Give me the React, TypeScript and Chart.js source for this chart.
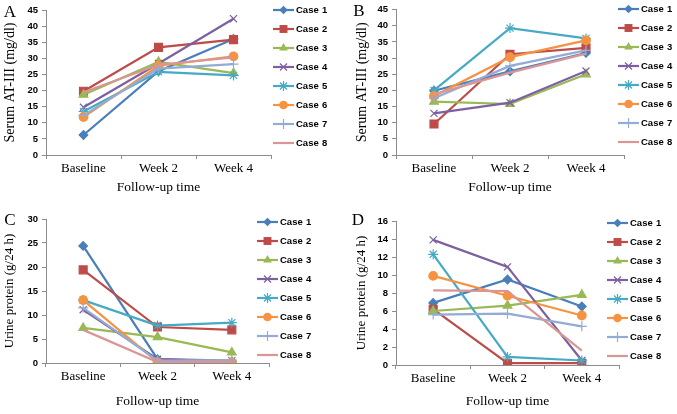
import React, { useEffect, useRef } from 'react';
import { Chart, registerables } from 'chart.js';

Chart.register(...registerables);

// ---------- data ----------
const CATEGORIES = ['Baseline', 'Week 2', 'Week 4'];
const CASE_LABELS = ['Case 1', 'Case 2', 'Case 3', 'Case 4', 'Case 5', 'Case 6', 'Case 7', 'Case 8'];

// Panel A: Serum AT-III (mg/dl)
const SERUM_A = [
  [6.2, 26.0, 36.0],
  [19.8, 33.4, 35.8],
  [18.7, 28.9, 25.4],
  [14.8, 28.4, 42.3],
  [13.5, 25.8, 24.7],
  [11.8, 27.7, 30.6],
  [12.3, 26.8, 28.2],
  [19.5, 28.0, 30.3],
];
// Panel B: Serum AT-III (mg/dl)
const SERUM_B = [
  [19.9, 25.9, 31.6],
  [9.6, 31.2, 33.2],
  [16.5, 15.8, 25.0],
  [12.9, 16.2, 26.0],
  [20.0, 39.3, 36.1],
  [18.3, 30.3, 35.5],
  [17.6, 27.6, 32.4],
  [18.8, 25.5, 31.4],
];
// Panel C: Urine protein (g/24 h)
const URINE_C = [
  [24.4, 0.8, 0.3],
  [19.4, 7.5, 6.9],
  [7.3, 5.4, 2.2],
  [11.1, 0.8, 0.5],
  [13.1, 7.8, 8.4],
  [13.1, 0.2, 0.1],
  [11.5, 0.5, 0.6],
  [6.9, 0.2, 0.3],
];
// Panel D: Urine protein (g/24 h)
const URINE_D = [
  [6.9, 9.5, 6.5],
  [6.2, 0.2, 0.2],
  [6.0, 6.6, 7.8],
  [13.9, 10.9, 0.5],
  [12.3, 0.9, 0.5],
  [9.9, 7.7, 5.5],
  [5.6, 5.7, 4.3],
  [8.3, 8.2, 1.6],
];

const SERUM_TICKS = [0, 5, 10, 15, 20, 25, 30, 35, 40, 45];
const URINE_C_TICKS = [0, 5, 10, 15, 20, 25, 30];
const URINE_D_TICKS = [0, 2, 4, 6, 8, 10, 12, 14, 16];

// ---------- styles ----------
const COLORS = ['#4A7EBB', '#BE4B48', '#98B954', '#7D60A0', '#46AAC5', '#F69240', '#93ABD5', '#D99694'];
const MARKERS: (string | false)[] = ['rectRot', 'rect', 'triangle', 'crossRot', 'star', 'circle', 'cross', false];
const RADII = [4.3, 5.6, 5, 5, 5, 4.3, 5, 0];

const SERIF = '"Liberation Serif", "Times New Roman", serif';
const SANS = '"Liberation Sans", Arial, sans-serif';

type PanelCfg = {
  letter: string;
  yTitle: string;
  yTitleSize: number;
  values: number[][];
  ticks: number[];
  x: number; y: number; w: number; h: number;
  padLeft: number; padTop: number; padRight: number;
  yWidth: number; xHeight: number; titlePadBottom: number;
  letterX: number; letterY: number;
  legendX: number; legendY: number;
};

const PANELS: PanelCfg[] = [
  { letter: 'A', yTitle: 'Serum AT-III (mg/dl)', yTitleSize: 14, values: SERUM_A, ticks: SERUM_TICKS,
    x: 0, y: 0, w: 338, h: 207, padLeft: 0, padTop: 10, padRight: 67, yWidth: 46, xHeight: 52, titlePadBottom: 11,
    letterX: 10, letterY: 13, legendX: 273, legendY: 10 },
  { letter: 'B', yTitle: 'Serum AT-III (mg/dl)', yTitleSize: 14, values: SERUM_B, ticks: SERUM_TICKS,
    x: 338, y: 0, w: 339, h: 207, padLeft: 14, padTop: 7, padRight: 53, yWidth: 44, xHeight: 52, titlePadBottom: 11,
    letterX: 21, letterY: 12, legendX: 280, legendY: 9 },
  { letter: 'C', yTitle: 'Urine protein (g/24 h)', yTitleSize: 13, values: URINE_C, ticks: URINE_C_TICKS,
    x: 0, y: 207, w: 338, h: 207, padLeft: 0, padTop: 12, padRight: 69, yWidth: 46, xHeight: 51, titlePadBottom: 4,
    letterX: 10, letterY: 14, legendX: 257, legendY: 15 },
  { letter: 'D', yTitle: 'Urine protein (g/24 h)', yTitleSize: 13, values: URINE_D, ticks: URINE_D_TICKS,
    x: 338, y: 207, w: 339, h: 207, padLeft: 14, padTop: 14, padRight: 58, yWidth: 44, xHeight: 49, titlePadBottom: 4,
    letterX: 20, letterY: 14, legendX: 269, legendY: 16 },
];

function drawMarker(ctx: CanvasRenderingContext2D, style: string | false, x: number, y: number, r: number, color: string) {
  if (!style) return;
  ctx.save();
  ctx.fillStyle = color;
  ctx.strokeStyle = color;
  ctx.lineWidth = 1.2;
  ctx.beginPath();
  const q = r * Math.SQRT1_2;
  switch (style) {
    case 'rectRot':
      ctx.moveTo(x, y - r); ctx.lineTo(x + r, y); ctx.lineTo(x, y + r); ctx.lineTo(x - r, y); ctx.closePath();
      ctx.fill(); break;
    case 'rect':
      ctx.rect(x - q, y - q, 2 * q, 2 * q); ctx.fill(); break;
    case 'triangle': {
      let a = 0;
      ctx.moveTo(x + Math.sin(a) * r, y - Math.cos(a) * r);
      a += (2 * Math.PI) / 3; ctx.lineTo(x + Math.sin(a) * r, y - Math.cos(a) * r);
      a += (2 * Math.PI) / 3; ctx.lineTo(x + Math.sin(a) * r, y - Math.cos(a) * r);
      ctx.closePath(); ctx.fill(); break;
    }
    case 'circle':
      ctx.arc(x, y, r, 0, Math.PI * 2); ctx.fill(); break;
    case 'crossRot':
      ctx.moveTo(x - q, y - q); ctx.lineTo(x + q, y + q); ctx.moveTo(x - q, y + q); ctx.lineTo(x + q, y - q);
      ctx.stroke(); break;
    case 'cross':
      ctx.moveTo(x, y - r); ctx.lineTo(x, y + r); ctx.moveTo(x - r, y); ctx.lineTo(x + r, y);
      ctx.stroke(); break;
    case 'star':
      ctx.moveTo(x, y - r); ctx.lineTo(x, y + r); ctx.moveTo(x - r, y); ctx.lineTo(x + r, y);
      ctx.moveTo(x - q, y - q); ctx.lineTo(x + q, y + q); ctx.moveTo(x - q, y + q); ctx.lineTo(x + q, y - q);
      ctx.stroke(); break;
  }
  ctx.restore();
}

function buildConfig(cfg: PanelCfg): any {
  const decor = {
    id: 'decor',
    afterDraw(chart: any) {
      const ctx: CanvasRenderingContext2D = chart.ctx;
      ctx.save();
      // panel letter
      ctx.fillStyle = '#000';
      ctx.font = `17px ${SERIF}`;
      ctx.textAlign = 'center';
      ctx.textBaseline = 'middle';
      ctx.fillText(cfg.letter, cfg.letterX, cfg.letterY);
      // legend
      CASE_LABELS.forEach((label, i) => {
        const yy = cfg.legendY + i * 19;
        ctx.strokeStyle = COLORS[i];
        ctx.lineWidth = 2.2;
        ctx.beginPath();
        ctx.moveTo(cfg.legendX, yy);
        ctx.lineTo(cfg.legendX + 21, yy);
        ctx.stroke();
        drawMarker(ctx, MARKERS[i], cfg.legendX + 10.5, yy, RADII[i], COLORS[i]);
        const parts = label.split(' ');
        ctx.fillStyle = '#000';
        ctx.font = `bold 9.5px ${SANS}`;
        ctx.textAlign = 'left';
        ctx.textBaseline = 'middle';
        ctx.fillText(parts[0], cfg.legendX + 23, yy + 0.5);
        ctx.fillText(parts[1], cfg.legendX + 49, yy + 0.5);
      });
      ctx.restore();
    },
  };

  return {
    type: 'line',
    data: {
      labels: CATEGORIES,
      datasets: cfg.values.map((vals, i) => ({
        label: CASE_LABELS[i],
        data: vals,
        borderColor: COLORS[i],
        backgroundColor: COLORS[i],
        borderWidth: 2.2,
        pointStyle: MARKERS[i],
        pointRadius: RADII[i],
        pointBackgroundColor: COLORS[i],
        pointBorderColor: COLORS[i],
        pointBorderWidth: 1.2,
        tension: 0,
        fill: false,
        order: CASE_LABELS.length - i,
      })),
    },
    options: {
      animation: false,
      responsive: false,
      events: [],
      layout: { padding: { left: cfg.padLeft, top: cfg.padTop, right: cfg.padRight, bottom: 0 } },
      plugins: { legend: { display: false }, tooltip: { enabled: false }, title: { display: false } },
      scales: {
        x: {
          type: 'category',
          offset: true,
          grid: { display: true, drawOnChartArea: false, drawTicks: true, tickLength: 4, color: '#8C8C8C', offset: true },
          border: { display: true, color: '#8C8C8C', width: 1 },
          ticks: { font: { family: SERIF, size: 13 }, color: '#000', padding: 2, maxRotation: 0, autoSkip: false },
          title: { display: true, text: 'Follow-up time', color: '#000', font: { family: SERIF, size: 13.5 }, padding: { top: 0, bottom: cfg.titlePadBottom } },
          afterFit: (s: any) => { s.height = cfg.xHeight; },
        },
        y: {
          min: cfg.ticks[0],
          max: cfg.ticks[cfg.ticks.length - 1],
          afterBuildTicks: (s: any) => { s.ticks = cfg.ticks.map((v) => ({ value: v })); },
          grid: { display: true, drawOnChartArea: false, drawTicks: true, tickLength: 4, color: '#8C8C8C' },
          border: { display: true, color: '#8C8C8C', width: 1 },
          ticks: { font: { family: SANS, size: 9.5, weight: 'bold' }, color: '#000', padding: 4 },
          title: { display: true, text: cfg.yTitle, color: '#000', font: { family: SERIF, size: cfg.yTitleSize }, padding: { top: 2, bottom: 0 } },
          afterFit: (s: any) => { s.width = cfg.yWidth; },
        },
      },
    },
    plugins: [decor],
  };
}

function Panel({ cfg }: { cfg: PanelCfg }) {
  const ref = useRef<HTMLCanvasElement>(null);
  useEffect(() => {
    const chart = new Chart(ref.current as HTMLCanvasElement, buildConfig(cfg));
    return () => chart.destroy();
  }, [cfg]);
  return (
    <canvas
      ref={ref}
      width={cfg.w}
      height={cfg.h}
      style={{ position: 'absolute', left: cfg.x, top: cfg.y, width: cfg.w, height: cfg.h }}
    />
  );
}

export default function App() {
  return (
    <div style={{ position: 'absolute', left: 0, top: 0, width: 677, height: 414, background: '#fff', overflow: 'hidden' }}>
      {PANELS.map((p) => (
        <Panel key={p.letter} cfg={p} />
      ))}
    </div>
  );
}
